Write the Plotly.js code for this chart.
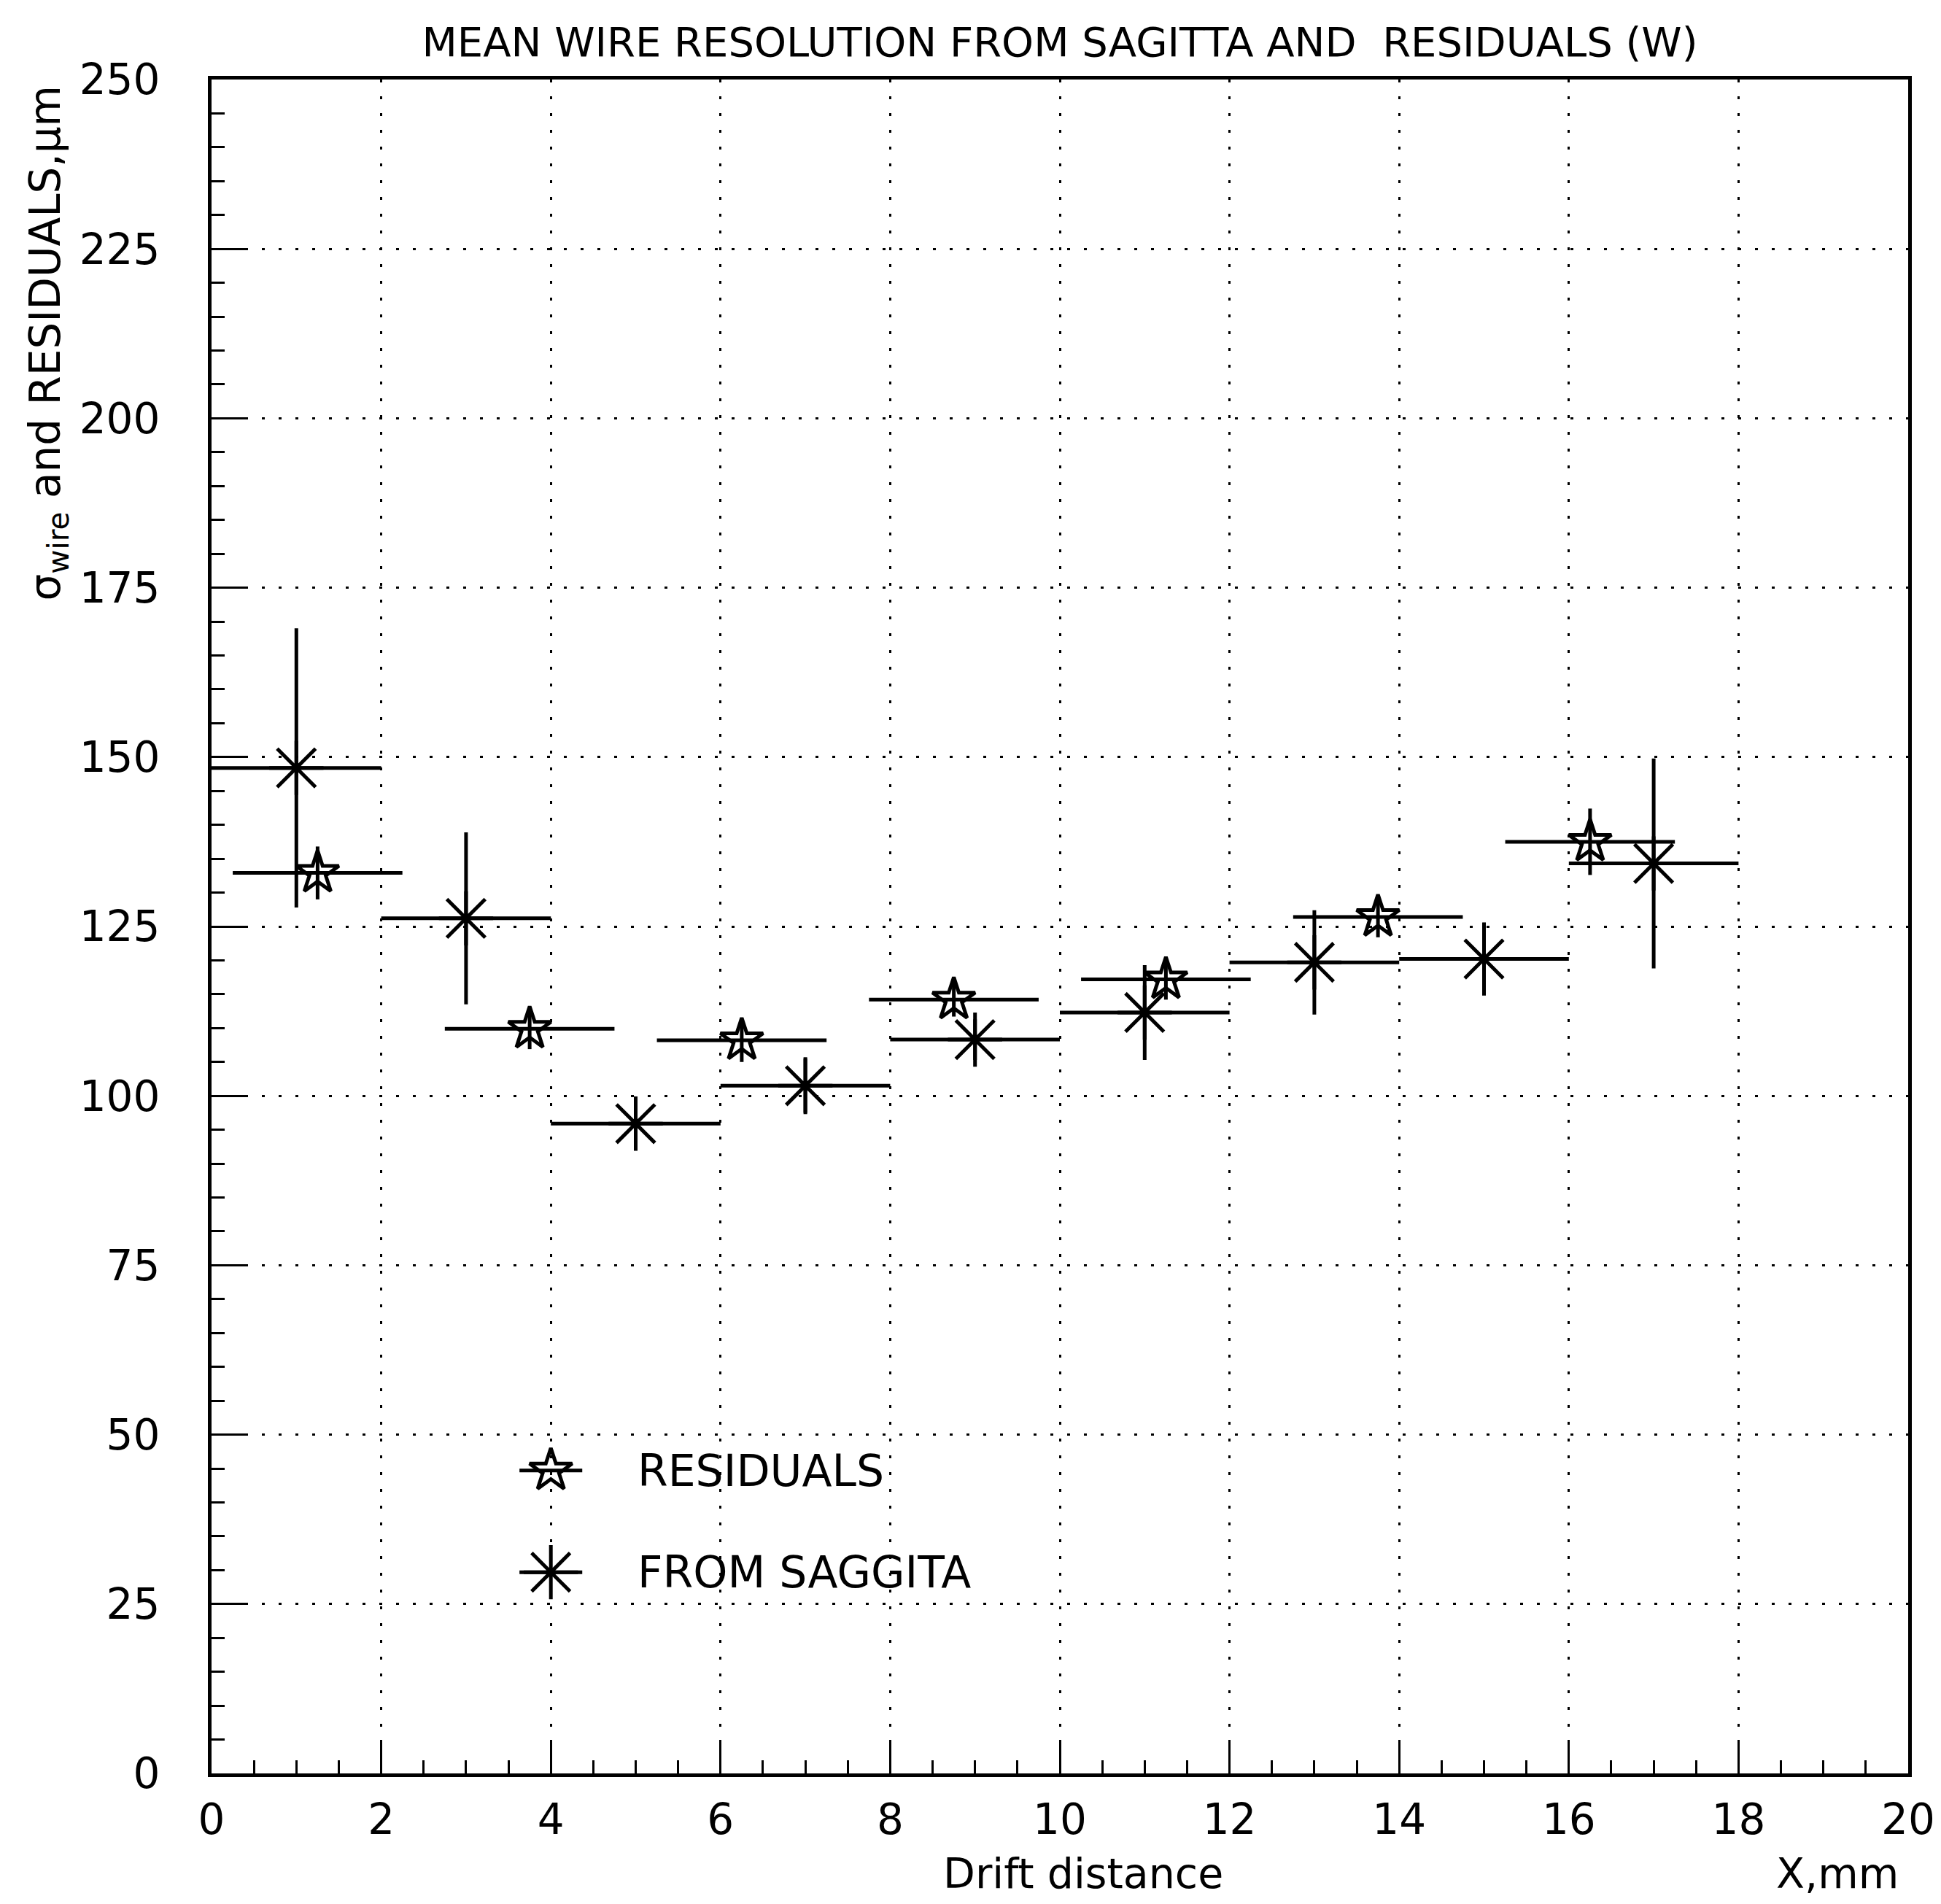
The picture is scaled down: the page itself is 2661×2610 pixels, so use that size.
<!DOCTYPE html>
<html>
<head>
<meta charset="utf-8">
<script src="https://cdn.plot.ly/plotly-3.0.1.min.js"></script>
<style>html,body{margin:0;padding:0;background:#fff;}</style>
</head>
<body>
<div id="chart" style="width:2661px;height:2610px;"></div>
<script>
// ---- data ----
const saggitaX = [1, 3, 5, 7, 9, 11, 13, 15, 17];
const saggitaY = [148.4, 126.2, 95.9, 101.5, 108.3, 112.3, 119.7, 120.2, 134.3];
const saggitaErr = [20.6, 12.7, 2.5, 4.2, 3.0, 7.0, 7.7, 5.4, 15.5];
const saggitaHalfBin = [1, 1, 1, 1, 1, 1, 1, 1, 1];

const residX = [1.25, 3.75, 6.25, 8.75, 11.25, 13.75, 16.25];
const residY = [132.9, 109.9, 108.2, 114.2, 117.2, 126.4, 137.5];
const residErr = [3.9, 3.0, 3.2, 2.5, 3.0, 3.0, 4.9];
const residHalfBin = [1, 1, 1, 1, 1, 1, 1];

const seriesNames = ['RESIDUALS', 'FROM SAGGITA'];
const xTickVals = [0, 2, 4, 6, 8, 10, 12, 14, 16, 18, 20];
const yTickVals = [0, 25, 50, 75, 100, 125, 150, 175, 200, 225, 250];

// ---- legend placement (layout, in data units) ----
const legendKeyX = 4.0;
const legendKeyY = [44.7, 29.7];
const legendKeyHalf = 0.37;
const legendTextX = 5.0;

const FONT = 'DejaVu Sans, Arial, sans-serif';
const INK = '#000';

const residStyle = {
  symbol: 'star-open', size: 44, color: INK, line: {color: INK, width: 5}
};
const sagStyle = {
  symbol: 'asterisk-open', size: 62, color: INK, line: {color: INK, width: 5}
};

const traces = [
  {
    type: 'scatter', mode: 'markers', name: seriesNames[0], showlegend: false,
    x: residX, y: residY,
    marker: residStyle,
    error_y: {type: 'data', array: residErr, visible: true, color: INK, thickness: 5, width: 0},
    error_x: {type: 'data', array: residHalfBin, visible: true, color: INK, thickness: 5, width: 0},
    cliponaxis: false
  },
  {
    type: 'scatter', mode: 'markers', name: seriesNames[1], showlegend: false,
    x: saggitaX, y: saggitaY,
    marker: sagStyle,
    error_y: {type: 'data', array: saggitaErr, visible: true, color: INK, thickness: 5, width: 0},
    error_x: {type: 'data', array: saggitaHalfBin, visible: true, color: INK, thickness: 5, width: 0},
    cliponaxis: false
  },
  // legend keys
  {
    type: 'scatter', mode: 'markers', showlegend: false, hoverinfo: 'skip',
    x: [legendKeyX], y: [legendKeyY[0]], marker: residStyle,
    error_x: {type: 'constant', value: legendKeyHalf, visible: true, color: INK, thickness: 5, width: 0}
  },
  {
    type: 'scatter', mode: 'markers', showlegend: false, hoverinfo: 'skip',
    x: [legendKeyX], y: [legendKeyY[1]], marker: sagStyle,
    error_x: {type: 'constant', value: legendKeyHalf, visible: true, color: INK, thickness: 5, width: 0}
  }
];

const gridDash = '4px,19px';

const layout = {
  width: 2661, height: 2610,
  paper_bgcolor: '#fff', plot_bgcolor: '#fff',
  margin: {l: 290, r: 45, t: 109, b: 179, pad: 0},
  font: {family: FONT, color: INK, size: 58},
  showlegend: false,
  title: {
    text: 'MEAN WIRE RESOLUTION FROM SAGITTA AND  RESIDUALS (W)',
    font: {family: FONT, size: 56, color: INK},
    x: 0.5, xref: 'paper', y: 1 - 57 / 2610, yref: 'container', yanchor: 'middle'
  },
  xaxis: {
    range: [0, 20], tickvals: xTickVals, ticktext: xTickVals.map(String),
    ticks: 'inside', ticklen: 46, tickwidth: 3, tickcolor: INK,
    minor: {dtick: 0.5, tick0: 0, ticks: 'inside', ticklen: 18, tickwidth: 3, tickcolor: INK, showgrid: false},
    showline: true, linewidth: 5, linecolor: INK, mirror: true,
    showgrid: true, gridcolor: INK, gridwidth: 3, griddash: gridDash,
    zeroline: false,
    tickfont: {family: FONT, size: 58, color: INK},
    ticklabelstandoff: 8,
    fixedrange: true
  },
  yaxis: {
    range: [0, 250], tickvals: yTickVals, ticktext: yTickVals.map(String),
    ticks: 'inside', ticklen: 46, tickwidth: 3, tickcolor: INK,
    minor: {dtick: 5, tick0: 0, ticks: 'inside', ticklen: 18, tickwidth: 3, tickcolor: INK, showgrid: false},
    showline: true, linewidth: 5, linecolor: INK, mirror: true,
    showgrid: true, gridcolor: INK, gridwidth: 3, griddash: gridDash,
    zeroline: false,
    tickfont: {family: FONT, size: 58, color: INK},
    ticklabelstandoff: 54,
    fixedrange: true
  },
  annotations: [
    {
      text: '\u03c3<sub>wire</sub> and RESIDUALS,\u03bcm',
      xref: 'paper', yref: 'paper',
      x: (66 - 290) / 2326, y: (2431 - 115) / 2322,
      xanchor: 'center', yanchor: 'top', textangle: -90, showarrow: false,
      font: {family: FONT, size: 58, color: INK}
    },
    {
      text: 'Drift distance', xref: 'paper', yref: 'paper',
      x: (1485 - 290) / 2326, y: (2431 - 2568) / 2322,
      xanchor: 'center', yanchor: 'middle', showarrow: false,
      font: {family: FONT, size: 57, color: INK}
    },
    {
      text: 'X,mm', xref: 'paper', yref: 'paper',
      x: (2605 - 290) / 2326, y: (2431 - 2568) / 2322,
      xanchor: 'right', yanchor: 'middle', showarrow: false,
      font: {family: FONT, size: 57, color: INK}
    },
    {
      text: seriesNames[0], xref: 'x', yref: 'y', x: legendTextX, y: legendKeyY[0],
      xanchor: 'left', yanchor: 'middle', showarrow: false,
      font: {family: FONT, size: 60, color: INK}
    },
    {
      text: seriesNames[1], xref: 'x', yref: 'y', x: legendTextX, y: legendKeyY[1],
      xanchor: 'left', yanchor: 'middle', showarrow: false,
      font: {family: FONT, size: 60, color: INK}
    }
  ]
};

Plotly.newPlot('chart', traces, layout, {staticPlot: true, displayModeBar: false});
</script>
</body>
</html>
